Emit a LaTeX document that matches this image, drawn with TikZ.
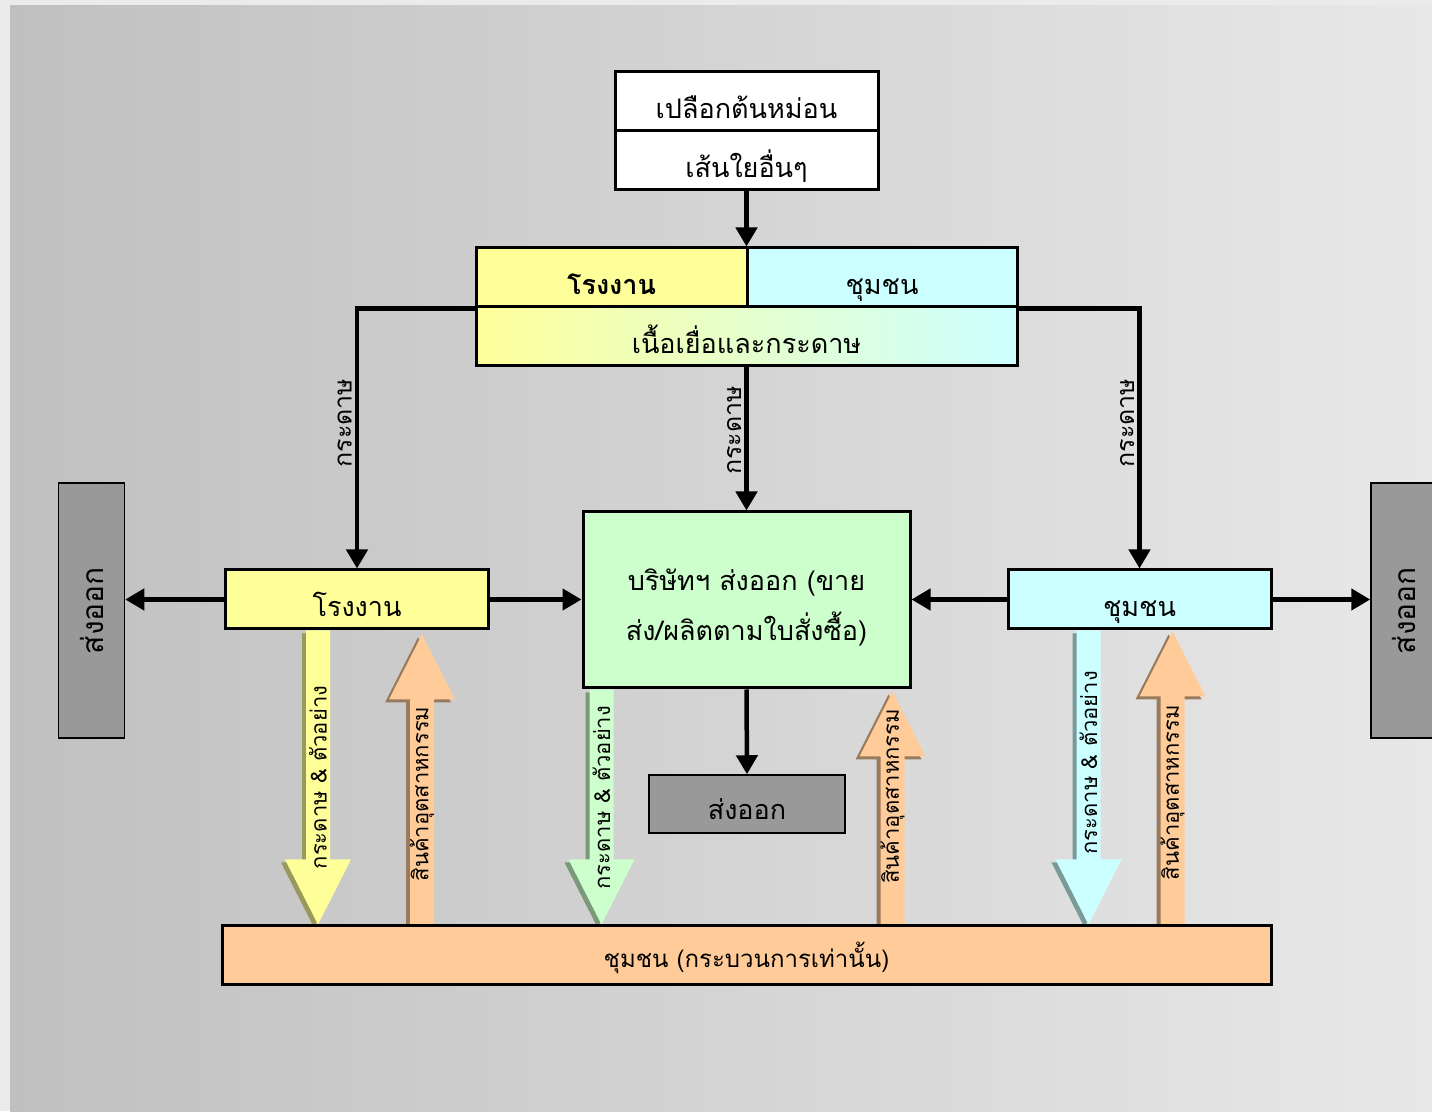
\documentclass[tikz,border=0pt]{standalone}
\usepackage{fontspec}
\newfontfamily\thaifont[Script=Thai]{Loma}
\usetikzlibrary{arrows.meta,positioning,calc}

\definecolor{bgedge}{HTML}{EBEBEB}
\definecolor{bgleft}{HTML}{C0C0C0}
\definecolor{bgright}{HTML}{E8E8E8}
\definecolor{mill}{HTML}{FFFF99}
\definecolor{village}{HTML}{CCFFFF}
\definecolor{firm}{HTML}{CCFFCC}
\definecolor{goods}{HTML}{FFCC99}
\definecolor{outbox}{HTML}{999999}

\pgfdeclarelayer{bg}
\pgfdeclarelayer{fat}
\pgfsetlayers{bg,fat,main}

% one coloured block arrow, tail #1 to tip #2
\newcommand\fatpart[5]{%
  \fill[#3] let \p1=(#1), \p2=(#2), \n1={sign(\y2-\y1)*65pt} in
    (\x1-12pt+#4,\y1+#5) -- (\x1-12pt+#4,\y2-\n1+#5) -- (\x1-33pt+#4,\y2-\n1+#5)
    -- (\x1+#4,\y2+#5) -- (\x1+33pt+#4,\y2-\n1+#5) -- (\x1+12pt+#4,\y2-\n1+#5)
    -- (\x1+12pt+#4,\y1+#5) -- cycle;}
\newcommand\fatarrow[3]{%
  \fatpart{#1}{#2}{#3!60!black}{-4pt}{-3pt}%
  \fatpart{#1}{#2}{#3}{0pt}{0pt}}

\begin{document}
\begin{tikzpicture}[x=1pt,y=1pt]
  \tikzset{
    frame/.style={draw=black, line width=3pt, inner sep=0pt, minimum height=59pt,
      font=\thaifont\fontsize{27}{32}\selectfont},
    box/.style={frame, text height=38pt, text depth=3pt},
    outbox/.style={frame, fill=outbox, minimum width=255pt, minimum height=66pt,
      rotate=90, line width=1.5pt, font=\thaifont\fontsize{30}{34}\selectfont},
    conn/.style={line width=4.5pt, -{Triangle[length=19pt,width=21pt]}},
    lbl/.style={rotate=90, anchor=south, inner sep=3pt,
      font=\thaifont\fontsize{25}{28}\selectfont},
    fattext/.style={rotate=90, inner sep=0pt,
      font=\thaifont\fontsize{22}{24}\selectfont}
  }
  \useasboundingbox (0,0) rectangle (1432,1111);
  \begin{pgfonlayer}{bg}
    \fill[bgedge] (0,0) rectangle (1432,1111);
    \shade[left color=bgleft, right color=bgright] (10,0) rectangle (1432,1105);
  \end{pgfonlayer}

  % raw material
  \node[box, fill=white, minimum width=263pt] (bark) at (746.5,1009.5) {เปลือกต้นหม่อน};
  \node[box, fill=white, minimum width=263pt] (fibre) at (746.5,950.5) {เส้นใยอื่นๆ};

  % pulp and paper
  \node[box, fill=mill, minimum width=271pt] (pmill) at (611.5,833.5) {\bfseries โรงงาน};
  \node[box, fill=village, minimum width=270pt] (pvill) at (882,833.5) {ชุมชน};
  \node[box, left color=mill, right color=village, minimum width=541pt] (pulp) at (746.5,774.5) {เนื้อเยื่อและกระดาษ};

  % second row
  \node[box, fill=mill, minimum width=263pt] (fac) at (357,511.5) {โรงงาน};
  \node[frame, fill=firm, minimum width=327pt, minimum height=176pt, align=center,
    font=\thaifont\fontsize{27}{50}\selectfont] (exp) at (746.5,511)
    {\rule{0pt}{36pt}บริษัทฯ ส่งออก (ขาย\\ส่ง/ผลิตตามใบสั่งซื้อ)};
  \node[box, fill=village, minimum width=263pt] (comm) at (1139.5,511.5) {ชุมชน};
  \node[outbox] (outl) at (91.5,500.5) {ส่งออก};
  \node[outbox] (outr) at (1404,500.5) {ส่งออก};
  \node[frame, fill=outbox, line width=1.5pt, minimum width=196pt, minimum height=58pt,
    text height=35pt, text depth=3pt] (outc) at (747,307) {ส่งออก};

  % community processing
  \node[frame, fill=goods, minimum width=1049pt, text height=28pt, text depth=3pt,
    font=\thaifont\fontsize{24}{28}\selectfont] (bot) at (746.5,155.5)
    {ชุมชน (กระบวนการเท่านั้น)};

  % connectors
  \draw[conn] (fibre.south) -- (fibre.south |- pmill.north);
  \draw[conn] (pmill.south west) -| node[lbl, pos=0.72] {กระดาษ} (fac.north);
  \draw[conn] (pvill.south east) -| node[lbl, pos=0.72] {กระดาษ} (comm.north);
  \draw[conn] (pulp.south) -- node[lbl, pos=0.44] {กระดาษ} (exp.north);
  \draw[conn] (fac.west) -- (fac.west -| outl.south);
  \draw[conn] (fac.east) -- (fac.east -| exp.west);
  \draw[conn] (comm.west) -- (comm.west -| exp.east);
  \draw[conn] (comm.east) -- (comm.east -| outr.north);
  \draw[conn] (exp.south) -- (outc.north);

  % block arrows
  \coordinate (ya) at ($(fac.south)+(-39,0)$);
  \coordinate (yb) at (ya |- bot.north);
  \coordinate (oa) at ($(fac.south)+(65,-4)$);
  \coordinate (ob) at (oa |- bot.north);
  \coordinate (ga) at ($(exp.south)+(-145,0)$);
  \coordinate (gb) at (ga |- bot.north);
  \coordinate (pa) at ($(exp.south)+(146,-2)$);
  \coordinate (pb) at (pa |- bot.north);
  \coordinate (ca) at ($(comm.south)+(-51,0)$);
  \coordinate (cb) at (ca |- bot.north);
  \coordinate (qa) at ($(comm.south)+(33,-1)$);
  \coordinate (qb) at (qa |- bot.north);
  \begin{pgfonlayer}{fat}
    \fatarrow{ya}{yb}{mill}
    \fatarrow{ob}{oa}{goods}
    \fatarrow{ga}{gb}{firm}
    \fatarrow{pb}{pa}{goods}
    \fatarrow{ca}{cb}{village}
    \fatarrow{qb}{qa}{goods}
  \end{pgfonlayer}
  \node[fattext] (ytxt) at ($(ya)!0.5!(yb)$) {กระดาษ \& ตัวอย่าง};
  \node[fattext] (otxt) at ($(ob)!0.45!(oa)$) {สินค้าอุตสาหกรรม};
  \node[fattext] (gtxt) at ($(ga)!0.46!(gb)$) {กระดาษ \& ตัวอย่าง};
  \node[fattext] (ptxt) at ($(pb)!0.55!(pa)$) {สินค้าอุตสาหกรรม};
  \node[fattext] (ctxt) at ($(ca)!0.45!(cb)$) {กระดาษ \& ตัวอย่าง};
  \node[fattext] (qtxt) at ($(qb)!0.45!(qa)$) {สินค้าอุตสาหกรรม};
\end{tikzpicture}
\end{document}
